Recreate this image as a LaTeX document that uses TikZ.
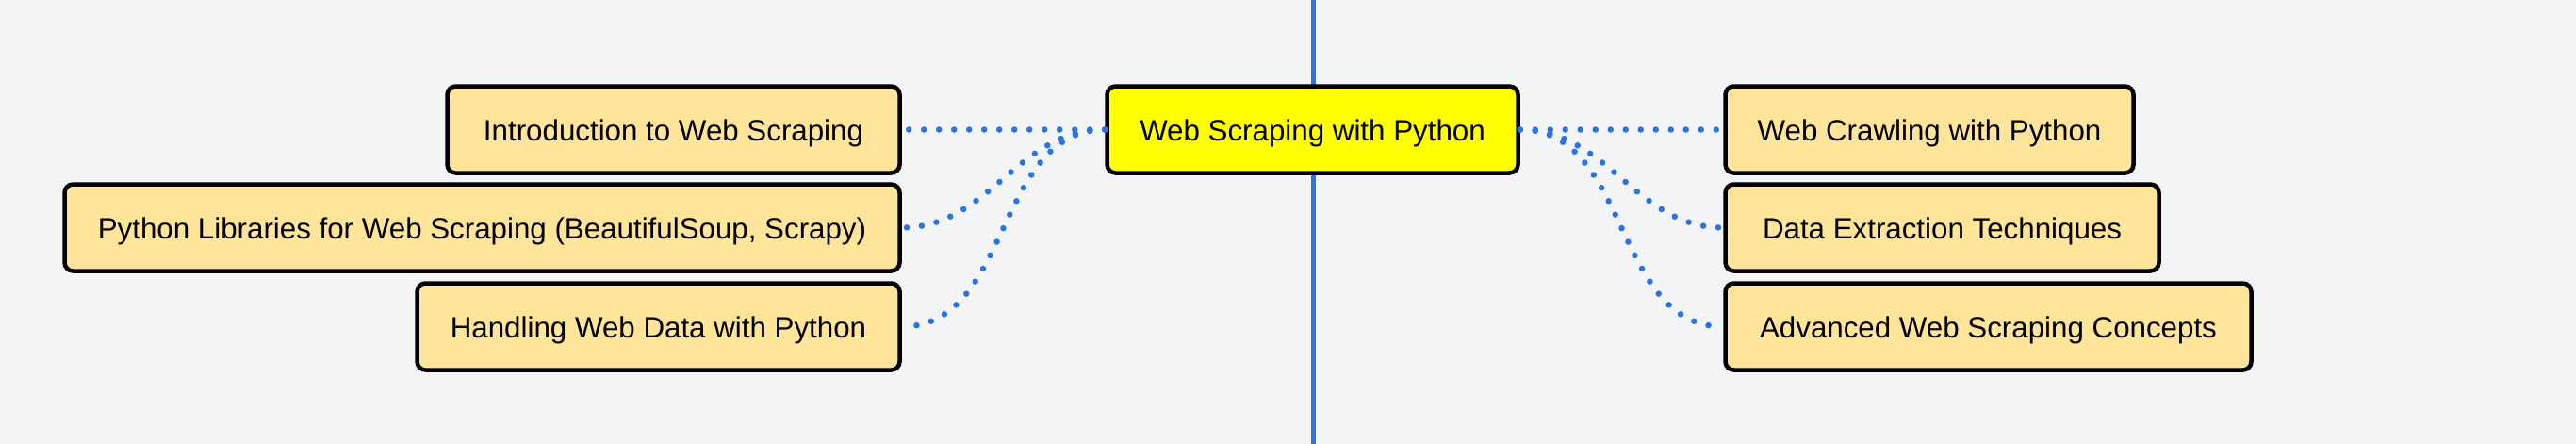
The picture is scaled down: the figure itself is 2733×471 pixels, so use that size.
\documentclass[tikz,border=0pt]{standalone}
\usepackage{fontspec}
\setmainfont{Liberation Sans}
\definecolor{bgc}{HTML}{F3F4F6}
\definecolor{boxfill}{HTML}{FFE599}
\definecolor{rootfill}{HTML}{FFFF00}
\definecolor{linkblue}{HTML}{2B73E0}
\tikzset{
  topicbox/.style={draw=black, line width=4.5pt, rounded corners=9pt, fill=boxfill,
    minimum height=92pt, inner sep=0pt, text height=30pt, text depth=6pt,
    font=\fontsize{31.3pt}{37pt}\selectfont, align=center},
  rootbox/.style={topicbox, fill=rootfill},
  link/.style={draw=linkblue, line width=6.5pt, line cap=round, dash pattern=on 0pt off 16pt},
  axis/.style={draw=linkblue, line width=5pt}
}
\begin{document}
\begin{tikzpicture}[x=1pt,y=-1pt]
\fill[bgc] (0,0) rectangle (2733,471);
\useasboundingbox (0,0) rectangle (2733,471);
\coordinate (axtop) at (1393,0);
\coordinate (axbot) at (1393,471);
\draw[axis] (axtop) -- (axbot);
\node[rootbox, minimum width=436pt] (root) at (1392.5,137.5) {Web Scraping with Python};
\node[topicbox, minimum width=480pt] (intro) at (714.5,137.5) {Introduction to Web Scraping};
\node[topicbox, minimum width=886pt] (libs) at (511.5,241.5) {Python Libraries for Web Scraping (BeautifulSoup, Scrapy)};
\node[topicbox, minimum width=512pt] (hand) at (698.5,346.5) {Handling Web Data with Python};
\node[topicbox, minimum width=433pt] (crawl) at (2047,137.5) {Web Crawling with Python};
\node[topicbox, minimum width=460pt] (extr) at (2060.5,241.5) {Data Extraction Techniques};
\node[topicbox, minimum width=558pt] (adv) at (2109.5,346.5) {Advanced Web Scraping Concepts};
\draw[link] (root.west) -- (intro.east);
\draw[link] (root.west) to[out=180,in=0] (libs.east);
\draw[link] (root.west) to[out=180,in=0] (hand.east);
\draw[link] (root.east) -- (crawl.west);
\draw[link] (root.east) to[out=0,in=180] (extr.west);
\draw[link] (root.east) to[out=0,in=180] (adv.west);
\end{tikzpicture}
\end{document}
